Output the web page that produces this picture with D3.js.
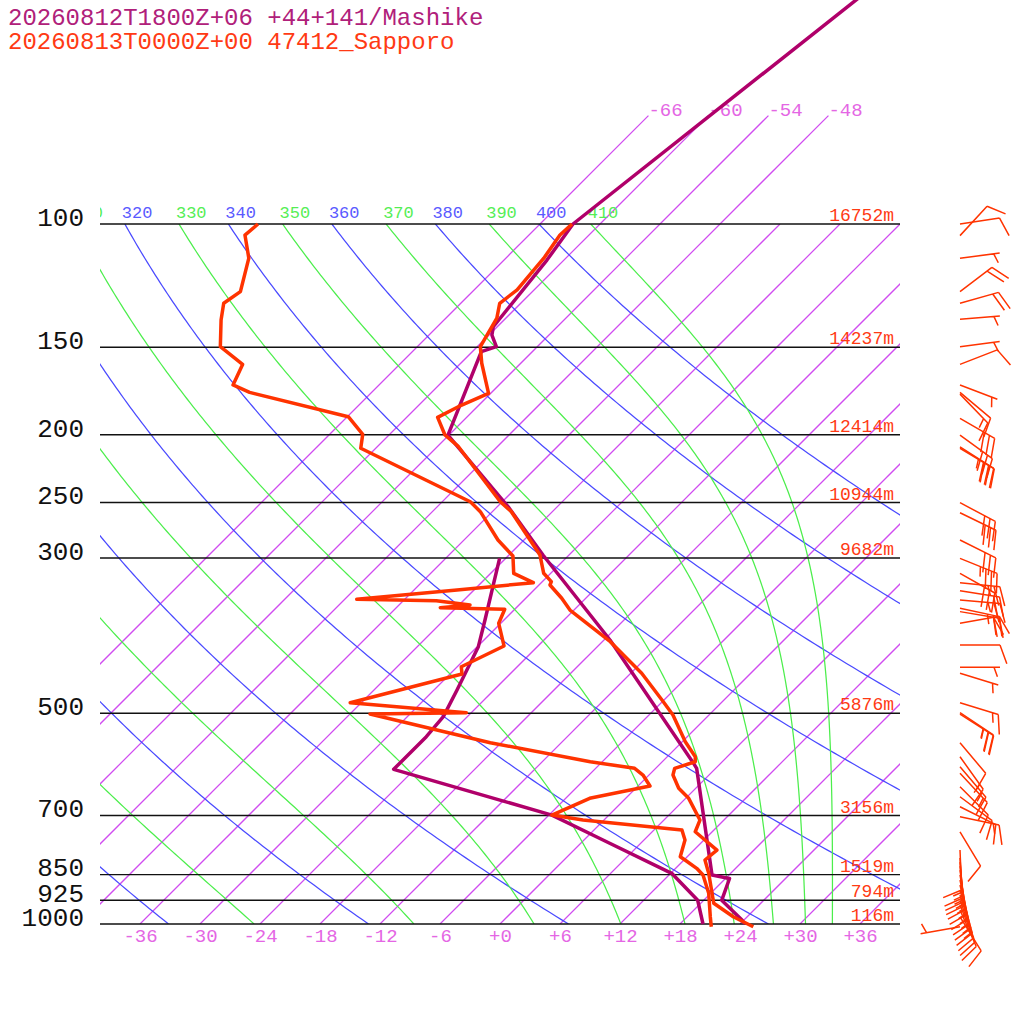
<!DOCTYPE html>
<html>
<head>
<meta charset="utf-8">
<script src="https://cdn.jsdelivr.net/npm/d3@7"></script>
<style>
  body { margin: 0; background: #fff; }
  svg { display: block; }
</style>
</head>
<body>
<svg id="chart" width="1024" height="1024"></svg>
<script>
// Skew-T log-p: Mashike forecast vs Sapporo sounding

const titleLines = [
  { text: '20260812T1800Z+06 +44+141/Mashike', color: '#b0207a' },
  { text: '20260813T0000Z+00 47412_Sapporo', color: '#ff3a14' }
];

const isobars = [100, 150, 200, 250, 300, 500, 700, 850, 925, 1000];
const heights = ['16752m', '14237m', '12414m', '10944m', '9682m', '5876m', '3156m', '1519m', '794m', '116m'];
const tempTicks = d3.range(-36, 37, 6);
const isotherms = d3.range(-66, 37, 6);
const topIsotherms = [-66, -60, -54, -48];
const dryThetas = [240, 260, 280, 300, 320, 340, 360, 380, 400];
const moistThetas = [250, 270, 290, 310, 330, 350, 370, 390, 410];

// Sapporo observed
const sapTempP = [100, 103.7, 111.9, 124.2, 129.8, 136.3, 149.7, 158.1, 174.6, 182.4, 188.9, 200.2, 207.6, 249.3, 257.6, 297.1, 315.5, 324.3, 327.9, 342.5, 356.0, 395.1, 438.4, 481.3, 502.9, 549.0, 576.8, 586.4, 599.3, 612.6, 639.9, 661.4, 710.4, 738.3, 784.1, 810.2, 846.4, 934.0, 976.3, 1009];
const sapTempT = [-62.8, -62.9, -62.2, -61.7, -62.1, -60.9, -59.7, -57.9, -54.2, -55.9, -56.9, -54.4, -52.0, -42.2, -40.1, -32.9, -30.7, -29.1, -28.9, -26.4, -24.4, -17.2, -10.9, -5.9, -3.6, 0.3, 2.8, 3.3, 1.9, 2.4, 4.3, 6.3, 9.6, 10.3, 14.3, 14.1, 15.8, 19.3, 22.6, 25.6];
const sapDewP = [100, 103.7, 111.9, 124.9, 129.8, 137.1, 149.7, 158.7, 169.8, 174.0, 188.5, 199.7, 209.1, 249.3, 257.6, 282.8, 298.1, 315.5, 325.4, 333.3, 343.6, 345.2, 350.2, 353.3, 355.1, 371.9, 400.7, 429.0, 439.4, 483.0, 499.0, 501.2, 550.8, 586.4, 599.3, 612.6, 635.2, 661.4, 698.9, 710.4, 734.2, 758.6, 801.5, 810.2, 832.6, 851.1, 903.9, 976.3, 1009];
const sapDewT = [-94.2, -94.4, -91.7, -89.2, -89.7, -88.3, -85.7, -81.7, -80.6, -78.2, -65.9, -62.7, -61.5, -45.2, -43.2, -38.6, -35.5, -33.7, -30.8, -37.7, -46.8, -38.7, -34.9, -37.6, -31.0, -30.2, -27.4, -29.6, -28.8, -37.1, -24.5, -34.0, -19.1, -7.2, -2.1, -0.6, 1.2, -3.6, -5.7, -2.1, 8.8, 10.1, 11.3, 12.1, 14.1, 15.4, 17.8, 20.3, 21.4];

// Mashike forecast
const mashTempP = [20, 100, 112.6, 140.2, 144.1, 149.7, 152.2, 200.2, 253.5, 297.1, 392.9, 589.6, 599.3, 758.6, 851.1, 860.9, 925, 987.0, 1000];
const mashTempT = [-49.8, -62.7, -61.7, -60.4, -59.7, -58.1, -59.1, -54.1, -40.9, -32.6, -17.4, 3.3, 4.1, 12.3, 16.3, 18.4, 19.8, 23.8, 24.5];
const mashDewP = [300.4, 326.1, 367.9, 401.6, 463.1, 505.6, 540.0, 601.2, 665.2, 698.9, 758.6, 846.4, 925, 1000];
const mashDewT = [-36.6, -34.7, -31.9, -29.9, -27.7, -26.4, -26.1, -26.1, -12.4, -5.7, 1.9, 12.1, 17.4, 20.3];

// Sapporo winds (direction deg, speed kt)
const windP = [100, 103.9, 111.9, 124.9, 129.8, 136.8, 149.7, 158.7, 169.8, 174.0, 175.0, 189.5, 200.2, 208.1, 209.1, 250.1, 258.5, 282.8, 300.4, 315.5, 325.4, 334.1, 344.4, 354, 357.9, 371.9, 399.4, 429.9, 438.4, 483.0, 499.0, 501.2, 550.8, 576.8, 596.2, 609.2, 636.6, 658, 680, 702.8, 738.3, 784.1, 805, 815.7, 826.5, 837.5, 851.1, 865.2, 879.6, 894.2, 909.1, 925, 939.5, 955, 977, 1009];
const windDir = [81.5, 42.6, 82.7, 52.9, 74.2, 85.2, 82.7, 68.7, 111, 130, 136, 120, 126, 122.5, 121, 118, 116, 116.5, 112, 119.5, 95.7, 99, 95, 102, 99.5, 80, 90, 90, 107, 107, 123.6, 122.8, 140, 144.5, 139.6, 137, 135, 126.5, 116.6, 102, 149, 177.6, 176, 175, 174, 172, 170, 168, 166, 164, 162, 160, 158, 156, 148, 260];
const windSpd = [10, 10, 5, 20, 20, 5, 5, 10, 5, 10, 15, 30, 30, 35, 30, 30, 30, 30, 35, 30, 25, 20, 25, 25, 20, 20, 10, 5, 5, 15, 25, 25, 10, 15, 15, 15, 10, 10, 10, 15, 10, 10, 15, 15, 15, 15, 15, 15, 15, 15, 15, 15, 10, 10, 10, 5];

const font = '"Liberation Mono", "DejaVu Sans Mono", monospace';
const boxL = 100, boxR = 900, boxT = 224, boxB = 924;

const svg = d3.select('#chart');
const y = d3.scaleLog().domain([100, 1000]).range([boxT, boxB]);
const tx = d3.scaleLinear().domain([-40, 40]).range([boxL, boxR]);
const sx = (t, p) => tx(t) + (boxB - y(p));

const defs = svg.append('defs');
defs.append('clipPath').attr('id', 'box').append('rect')
  .attr('x', boxL).attr('y', boxT).attr('width', boxR - boxL).attr('height', boxB - boxT);
defs.append('clipPath').attr('id', 'lab').append('rect')
  .attr('x', boxL).attr('y', 0).attr('width', 1024 - boxL).attr('height', 1024);

// pressure samples for curved lines
const pSteps = d3.range(0, 181).map(i => 1000 * Math.pow(10, -i / 180));

function thetaE(tk, p) {
  const tc = tk - 273.15;
  const es = 6.112 * Math.exp(17.67 * tc / (tc + 243.5));
  if (es > 0.5 * p) return Infinity;
  const r = 0.622 * es / (p - es);
  return tk * Math.pow(1000 / p, 0.2854 * (1 - 0.28 * r)) *
    Math.exp((3.376 / tk - 0.00254) * r * 1000 * (1 + 0.81 * r));
}
function moistT(te, p) {
  let lo = 100, hi = 330;
  for (let i = 0; i < 50; i++) {
    const mid = (lo + hi) / 2;
    if (thetaE(mid, p) < te) lo = mid; else hi = mid;
  }
  return (lo + hi) / 2 - 273.15;
}
const dryT = (th, p) => th * Math.pow(p / 1000, 0.286) - 273.15;

const line = d3.line().x(d => sx(d[1], d[0])).y(d => y(d[0]));

const isoColor = '#d04cf0', dryColor = '#4a4aff', moistColor = '#4cee4c';
const thin = 1.25;

const bg = svg.append('g').attr('clip-path', 'url(#box)').style('fill', 'none');

bg.selectAll('line.iso').data(isotherms).enter().append('line')
  .attr('class', 'iso')
  .attr('x1', t => sx(t, 1000)).attr('y1', y(1000))
  .attr('x2', t => sx(t, 100)).attr('y2', y(100))
  .style('stroke', isoColor).style('stroke-width', thin);

bg.selectAll('path.dry').data(dryThetas).enter().append('path')
  .attr('class', 'dry')
  .attr('d', th => line(pSteps.map(p => [p, dryT(th, p)])))
  .style('stroke', dryColor).style('stroke-width', thin);

bg.selectAll('path.moist').data(moistThetas).enter().append('path')
  .attr('class', 'moist')
  .attr('d', te => line(pSteps.map(p => [p, moistT(te, p)])))
  .style('stroke', moistColor).style('stroke-width', thin);

// isotherms carried above 100 hPa with labels
svg.selectAll('line.isoTop').data(topIsotherms).enter().append('line')
  .attr('class', 'isoTop')
  .attr('x1', t => sx(t, 100)).attr('y1', y(100))
  .attr('x2', t => sx(t, 70)).attr('y2', y(70))
  .style('stroke', isoColor).style('stroke-width', thin);
svg.selectAll('text.isoTopLab').data(topIsotherms).enter().append('text')
  .attr('class', 'isoTopLab')
  .attr('x', t => sx(t, 70)).attr('y', y(70))
  .attr('font-family', font).attr('font-size', 19).attr('fill', '#e466e4')
  .text(t => t);

// isobars
svg.selectAll('line.isobar').data(isobars).enter().append('line')
  .attr('class', 'isobar')
  .attr('x1', boxL).attr('x2', boxR)
  .attr('y1', p => y(p)).attr('y2', p => y(p))
  .style('stroke', '#111').style('stroke-width', 1.4);

// theta labels along 100 hPa
const labs = svg.append('g').attr('clip-path', 'url(#lab)')
  .attr('font-family', font).attr('font-size', 17);
const dryLab = dryThetas.filter(th => sx(dryT(th, 100), 100) > 60);
const moistLab = moistThetas.filter(te => sx(moistT(te, 100), 100) > 60);
labs.selectAll('text.dl').data(dryLab).enter().append('text')
  .attr('class', 'dl')
  .attr('x', th => sx(dryT(th, 100), 100) - 3).attr('y', boxT - 6)
  .attr('fill', '#5a5aff').text(th => th);
labs.selectAll('text.ml').data(moistLab).enter().append('text')
  .attr('class', 'ml')
  .attr('x', te => sx(moistT(te, 100), 100) - 3).attr('y', boxT - 6)
  .attr('fill', '#55ee55').text(te => te);

// heights
svg.selectAll('text.hgt').data(isobars).enter().append('text')
  .attr('class', 'hgt')
  .attr('x', boxR - 6).attr('y', p => y(p) - 3)
  .attr('text-anchor', 'end').attr('font-family', font).attr('font-size', 18)
  .attr('fill', '#ff3a14').text((p, i) => heights[i]);

// axes
const xAxis = svg.append('g').attr('transform', `translate(0,${boxB})`)
  .call(d3.axisBottom(tx).tickValues(tempTicks).tickSize(0).tickPadding(5)
    .tickFormat(d => (d >= 0 ? '+' : '') + d));
xAxis.select('.domain').remove();
xAxis.attr('font-family', font).attr('font-size', 19).attr('color', '#e466e4');

const yAxis = svg.append('g').attr('transform', `translate(${boxL},0)`)
  .call(d3.axisLeft(y).tickValues(isobars).tickSize(0).tickPadding(16).tickFormat(d3.format('d')));
yAxis.select('.domain').remove();
yAxis.attr('font-family', font).attr('font-size', 26).attr('color', '#111');
yAxis.selectAll('text').attr('dy', '0.05em');

// profiles
const prof = (P, T) => P.map((p, i) => [p, T[i]]);
const profiles = [
  { d: prof(mashTempP, mashTempT), c: '#b0006a' },
  { d: prof(mashDewP, mashDewT), c: '#b0006a' },
  { d: prof(sapTempP, sapTempT), c: '#ff3300' },
  { d: prof(sapDewP, sapDewT), c: '#ff3300' }
];
svg.selectAll('path.prof').data(profiles).enter().append('path')
  .attr('class', 'prof')
  .attr('d', d => line(d.d)).style('fill', 'none')
  .style('stroke', d => d.c).style('stroke-width', 3.5)
  .style('stroke-linejoin', 'round');

// wind barbs
const rad = Math.PI / 180;
const barbs = windP.map((p, i) => {
  const a = windDir[i] * rad, s = windSpd[i];
  const ux = Math.sin(a), uy = -Math.cos(a);
  const bx = ux * Math.cos(70 * rad) - uy * Math.sin(70 * rad);
  const by = ux * Math.sin(70 * rad) + uy * Math.cos(70 * rad);
  const x0 = 960, y0 = y(p);
  const x1 = x0 + 40 * ux, y1 = y0 + 40 * uy;
  let path = `M${x0},${y0}L${x1},${y1}`;
  const full = Math.floor(s / 10), half = (s % 10) >= 5;
  let k = 0;
  for (; k < full; k++) {
    path += `M${x1 - k * 6 * ux},${y1 - k * 6 * uy}l${20 * bx},${20 * by}`;
  }
  if (half) {
    if (k === 0) k = 1;
    path += `M${x1 - k * 6 * ux},${y1 - k * 6 * uy}l${10 * bx},${10 * by}`;
  }
  return path;
});
svg.append('g').selectAll('path').data(barbs).enter().append('path')
  .attr('d', d => d).style('fill', 'none')
  .style('stroke', '#ff3300').style('stroke-width', 1.5);

// title
svg.selectAll('text.title').data(titleLines).enter().append('text')
  .attr('class', 'title')
  .attr('x', 8).attr('y', (d, i) => 25 + i * 24)
  .attr('font-family', font).attr('font-size', 24)
  .attr('fill', d => d.color).text(d => d.text);
</script>
</body>
</html>
